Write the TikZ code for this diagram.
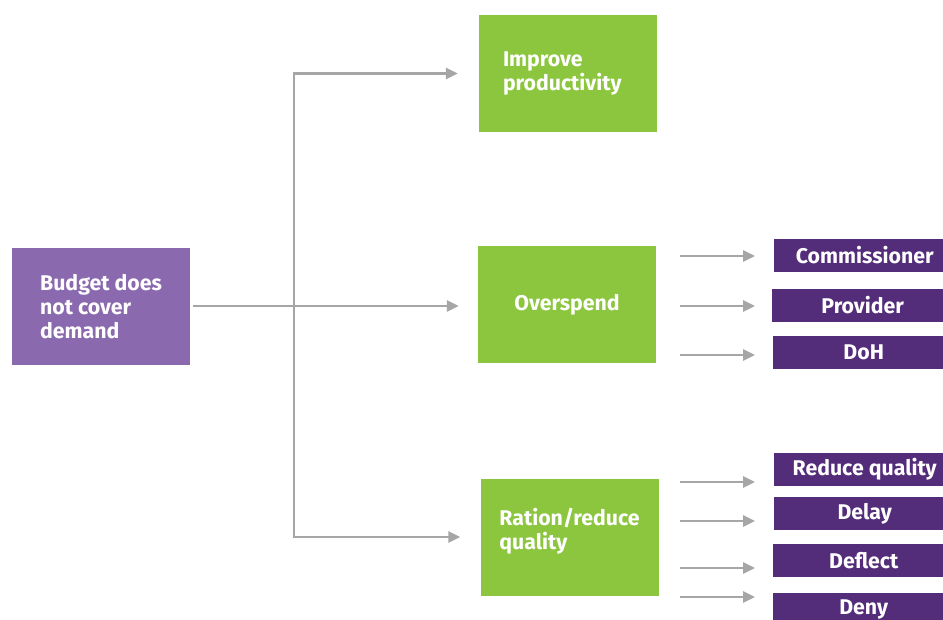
\documentclass[tikz,border=0pt]{standalone}
\usepackage{fontspec}
\setmainfont{Fira Sans}
\usetikzlibrary{arrows.meta}

\definecolor{leaf}{HTML}{8CC63F}
\definecolor{lilac}{HTML}{8A69AE}
\definecolor{plum}{HTML}{532C7A}
\definecolor{ash}{HTML}{A6A6A6}

\tikzset{
  bigbox/.style={fill=#1, text=white, minimum width=178pt, minimum height=117pt,
    align=left, inner sep=0pt, font=\bfseries\fontsize{21.3}{24}\selectfont},
  tagbox/.style={fill=plum, text=white, anchor=west, minimum width=181pt,
    minimum height=33pt, inner sep=0pt, font=\bfseries\fontsize{21.3}{24}\selectfont},
  link/.style={draw=ash, line width=2.8pt, -{Triangle[length=12pt, width=11pt]}}
}

\begin{document}
\begin{tikzpicture}[x=1pt, y=-1pt]

  \useasboundingbox (0,0) rectangle (943,620);

  % Main boxes
  \node[bigbox=lilac] (budget) at (101,306.5) {Budget does\\not cover\\demand};
  \node[bigbox=leaf, text width=130pt, inner xsep=24pt] (improve) at (568,73.5) {Improve\\productivity};
  \node[bigbox=leaf] (overspend) at (567,304.5) {Overspend};
  \node[bigbox=leaf, text depth=17pt] (ration) at (569.5,537) {Ration/reduce\\quality};

  % Outcome tags
  \node[tagbox] (comm) at (774,255.5) {Commissioner};
  \node[tagbox] (prov) at (772,305.5) {Provider};
  \node[tagbox] (doh) at (773,352.5) {DoH};
  \node[tagbox] (redq) at (774,469.5) {Reduce quality};
  \node[tagbox] (delay) at (774,513.5) {Delay};
  \node[tagbox] (deflect) at (773,560.5) {Deflect};
  \node[tagbox] (deny) at (773,609.5) {Deny};

  % Branching connectors
  \coordinate (split) at (294,306);
  \draw[link, shorten <=3pt, shorten >=19pt] (budget.east |- split) -- (overspend.west |- split);
  \draw[link, shorten >=21pt] (split) |- (improve.west);
  \draw[link, shorten >=20pt] (split) |- (ration.west);

  % Short arrows towards the tags
  \foreach \y/\n in {256/a, 306/b, 355/c, 482/d, 521/e, 568/f, 597/g} {
    \coordinate (s\n) at (680,\y);
    \coordinate (t\n) at (755,\y);
    \draw[link] (s\n) -- (t\n);
  }

\end{tikzpicture}
\end{document}
